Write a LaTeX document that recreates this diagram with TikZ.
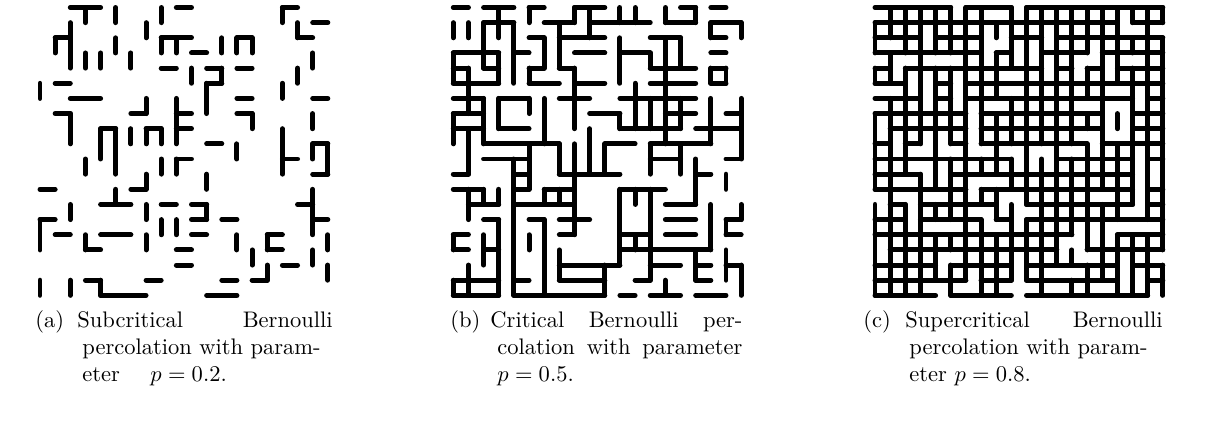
\documentclass[tikz,border=0pt]{standalone}
\begin{document}
\begin{tikzpicture}[x=0.44444pt,y=-0.44444pt]
\useasboundingbox (0,0) rectangle (1210,423);
\tikzset{bond/.style={line width=2.2pt,line cap=round,line join=round},
  captext/.style={inner sep=0pt,anchor=base west}}
% ---------- (a) p = 0.2 ----------
\begin{scope}[shift={(40,7.5)},scale=15.15]
\foreach \i/\j in {2/0,3/0,9/0,16/0,18/1,17/2,1/2,8/2,9/2,13/2,10/3,8/4,11/4,13/4,1/5,11/5,
  2/6,3/6,13/6,18/6,1/7,6/7,9/7,13/7,9/8,4/8,7/8,11/9,18/9,9/10,16/10,18/11,0/12,6/12,
  4/13,5/13,8/13,10/13,17/13,10/14,12/14,18/14,0/14,1/15,4/15,5/15,10/15,15/15,3/16,15/16,9/16,
  9/17,16/17,14/18,7/18,12/18,3/18,4/19,5/19,6/19,11/19,12/19}
  \draw[bond] (\i,\j) -- ++(1,0);
\foreach \i/\j in {3/0,5/0,8/0,16/0,17/1,2/1,7/1,2/2,1/2,5/2,8/2,9/2,12/2,13/2,14/2,
  2/3,3/3,4/3,6/3,18/3,10/4,12/4,17/4,0/5,11/5,16/5,11/6,7/6,9/6,2/7,9/7,14/7,18/7,
  2/8,6/8,9/8,4/8,5/8,7/8,8/8,16/8,13/9,4/9,5/9,16/9,18/9,19/9,3/10,5/10,8/10,9/10,16/10,19/10,
  11/11,7/11,5/12,18/12,2/13,7/13,11/13,18/13,0/14,8/14,9/14,18/14,0/15,3/15,7/15,13/15,15/15,19/15,
  14/16,18/16,15/17,19/17,0/18,2/18,4/18}
  \draw[bond] (\i,\j) -- ++(0,1);
\end{scope}
% ---------- (b) p = 0.5 ----------
\begin{scope}[shift={(453.3,7.5)},scale=15.15]
\foreach \j/\row in {0/{0,2,3,5,8,9,15,17},1/{2,3,6,7,9,10,11,12,14,15,17,18},
  2/{5,7,8,9,13,14,17},3/{0,1,2,4,8,9,11,12,17},4/{0,2,5,7,13,14,15,17},
  5/{0,1,2,5,6,8,9,13,14,15,17},6/{0,1,3,4,7,8,11,12,13,14,15},7/{0,1,9,10,14,15,18},
  8/{0,1,3,4,11,12,13,14,16,17,18},9/{2,3,4,5,6,10,11,13,14,15,16},10/{2,3,4,13,14,18},
  11/{0,4,7,8,9,10,16},12/{0,1,4,6,7,11,12,13},13/{1,2,4,5,6,7,14,15},
  14/{2,5,7,8,14,15,18},15/{0,7,11,12,14,15,18},16/{0,2,11,12,13,14,15,16},
  17/{7,8,9,10,13,14,16,18},18/{0,1,2,4,7,8,9,12,16},19/{0,1,2,4,5,6,7,8,9,11,13,14,16,17}}
  {\foreach \i in \row {\draw[bond] (\i,\j) -- ++(1,0);}}
\foreach \j/\row in {0/{3,5,8,9,11,12,14,16},1/{0,1,2,3,4,7,9,17,19},2/{2,4,6,7,11,14,15},
  3/{0,2,3,4,6,7,11,13,14,15},4/{0,1,3,4,5,8,11,14,17,18},5/{1,8,12,14},
  6/{1,2,3,5,6,8,12,13,14,15,17,19},7/{0,2,3,6,8,11,12,13,14,15,17,19},8/{0,1,2,6,9,14,17,19},
  9/{1,5,7,8,9,10,13,15,19},10/{1,4,5,7,8,9,10,13,15,16},11/{4,5,8,16,18},
  12/{1,2,3,4,6,7,8,11,12,13,16},13/{1,4,8,11,13,17,19},14/{3,4,6,8,11,13,17,18},
  15/{0,2,3,4,5,6,11,12,13,17},16/{2,3,4,6,7,11,13,16,18},17/{1,3,4,6,7,10,13,16,18,19},
  18/{0,1,3,4,6,10,14,19}}
  {\foreach \i in \row {\draw[bond] (\i,\j) -- ++(0,1);}}
\end{scope}
% ---------- (c) p = 0.8 ----------
\pgfmathsetseed{11}
\begin{scope}[shift={(875,7.5)},scale=15.15]
\foreach \i in {0,...,18}{\foreach \j in {0,...,19}{
  \pgfmathtruncatemacro\r{rnd<0.8}\ifnum\r=1 \draw[bond] (\i,\j) -- ++(1,0);\fi
  \pgfmathtruncatemacro\r{rnd<0.8}\ifnum\r=1 \draw[bond] (\j,\i) -- ++(0,1);\fi}}
\end{scope}
% ---------- captions ----------
\node[captext] (a1) at (35,327) {(a)};
\node[captext] (a2) at (77,327) {Subcritical};
\node[captext,anchor=base east] (a3) at (333,327) {Bernoulli};
\node[captext] (a4) at (82,354) {percolation with param-};
\node[captext] (a5) at (82,381) {eter};
\node[captext] (a6) at (150,381) {$p=0.2$.};
\node[captext] (b1) at (450,327) {(b)};
\node[captext] (b1b) at (490,327) {\makebox[112pt][s]{Critical Bernoulli per-}};
\node[captext] (b2) at (497,354) {\makebox[108.9pt][s]{colation with parameter}};
\node[captext] (b3) at (497,381) {$p=0.5$.};
\node[captext] (c1) at (863,327) {(c)};
\node[captext] (c2) at (905,327) {Supercritical};
\node[captext,anchor=base east] (c3) at (1163,327) {Bernoulli};
\node[captext] (c4) at (909,354) {percolation with param-};
\node[captext] (c5) at (909,381) {eter $p=0.8$.};
\end{tikzpicture}
\end{document}
